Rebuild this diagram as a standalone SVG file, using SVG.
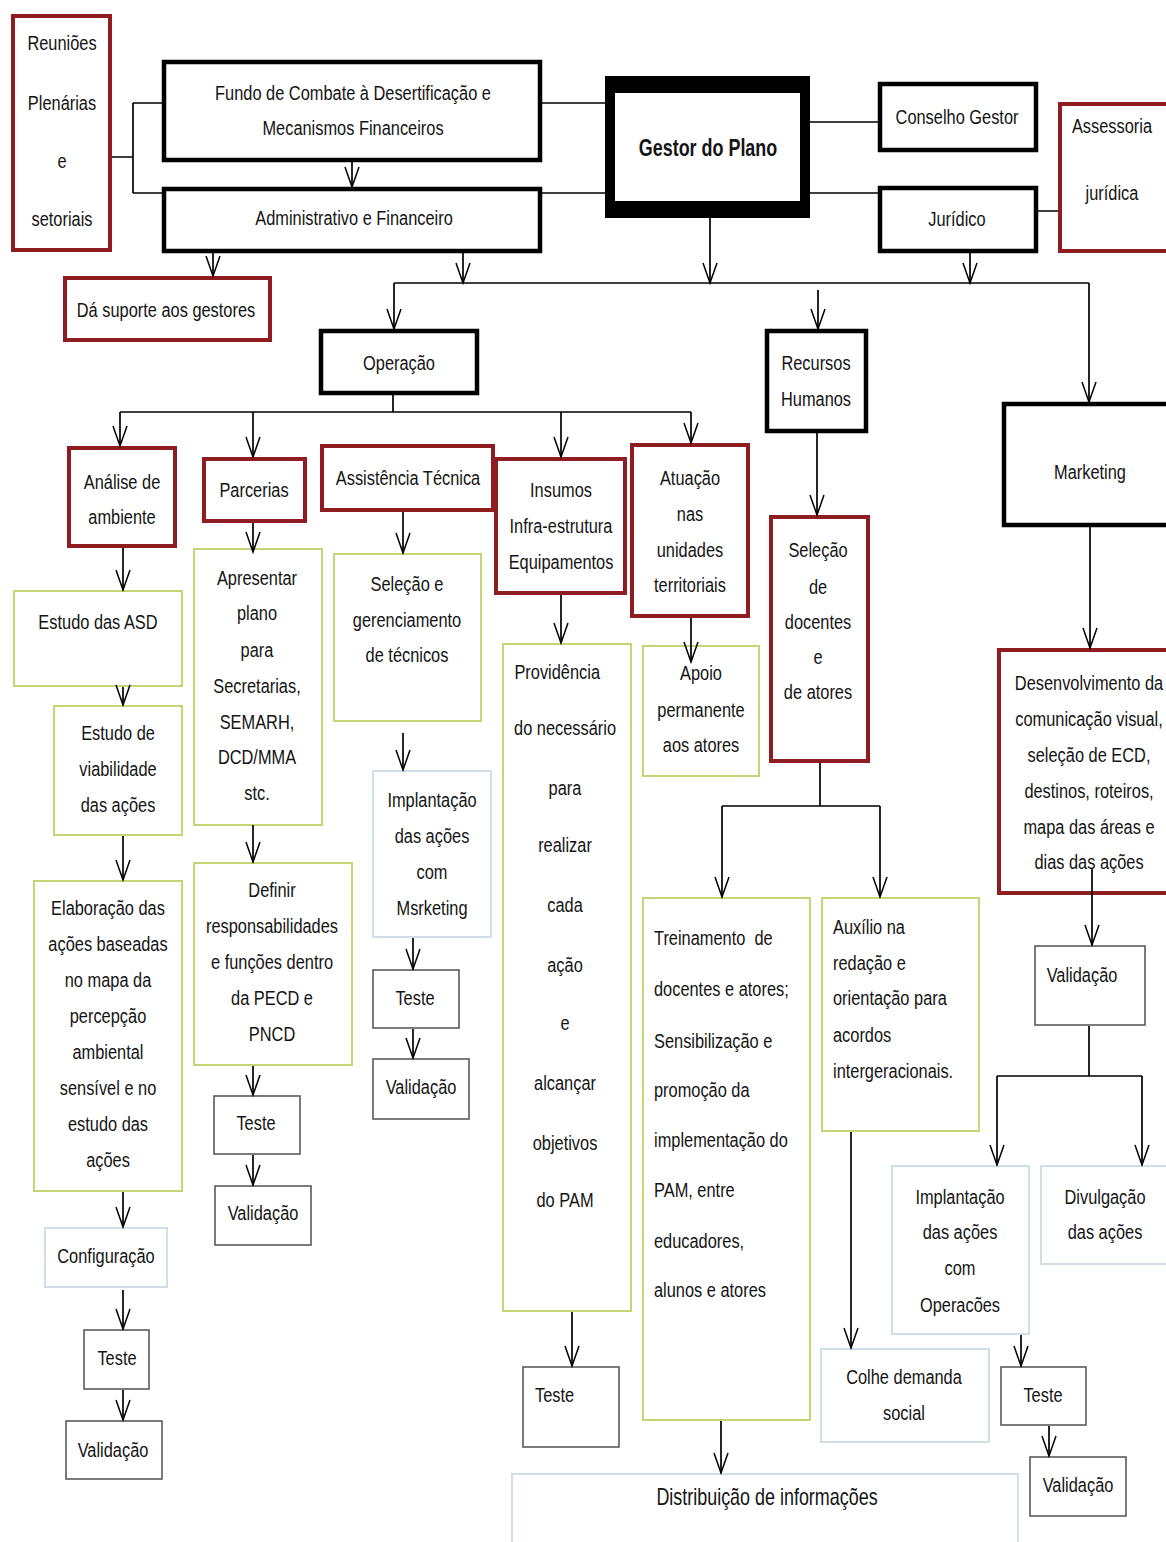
<svg xmlns="http://www.w3.org/2000/svg" width="1166" height="1542" viewBox="0 0 1166 1542">
  <defs>
    <style>
      .bk { fill:#fff; stroke:#000; stroke-width:4.5; }
      .rd { fill:#fff; stroke:#8e1c20; stroke-width:4; }
      .gr { fill:#fff; stroke:#c6d474; stroke-width:2; }
      .bl { fill:#fff; stroke:#cfdee7; stroke-width:2; }
      .gy { fill:#fff; stroke:#5a5a5a; stroke-width:1.6; }
      text { font-family:"Liberation Sans", Arial, sans-serif; font-size:21px; fill:#141414; text-anchor:middle; }
      text.l { text-anchor:start; }
      text.b { font-weight:bold; font-size:23px; }
      #connectors path { fill:none; stroke:#000; stroke-width:1.7; }
      #connectors path.a { marker-end:url(#v); }
    </style>
    <marker id="v" viewBox="0 0 20 14" refX="20" refY="7" markerWidth="20" markerHeight="14" markerUnits="userSpaceOnUse" orient="auto" overflow="visible">
      <path d="M0,0 L20,7 L0,14" fill="none" stroke="#000" stroke-width="1.5"/>
    </marker>
  </defs>

  <rect width="1166" height="1542" fill="#fff"/>

  <!-- top management row -->
  <g id="reunioes">
    <rect class="rd" x="13" y="16" width="97" height="234"/>
    <text transform="translate(62 0) scale(0.78 1)"><tspan x="0" y="50">Reuniões</tspan><tspan x="0" y="110">Plenárias</tspan><tspan x="0" y="168">e</tspan><tspan x="0" y="226">setoriais</tspan></text>
  </g>
  <g id="fundo">
    <rect class="bk" x="164" y="62" width="376" height="98"/>
    <text transform="translate(353 0) scale(0.78 1)"><tspan x="0" y="100">Fundo de Combate à Desertificação e</tspan><tspan x="0" y="135">Mecanismos Financeiros</tspan></text>
  </g>
  <g id="administrativo">
    <rect class="bk" x="164" y="189" width="376" height="62"/>
    <text transform="translate(354 0) scale(0.78 1)" x="0" y="225">Administrativo e Financeiro</text>
  </g>
  <g id="suporte">
    <rect class="rd" x="65" y="278" width="205" height="62"/>
    <text transform="translate(166 0) scale(0.78 1)" x="0" y="317">Dá suporte aos gestores</text>
  </g>
  <g id="gestor">
    <path d="M605,76 H810 V218 H605 Z M615,93 V201 H800 V93 Z" fill="#000" fill-rule="evenodd"/>
    <rect x="615" y="93" width="185" height="108" fill="#fff"/>
    <text class="b" transform="translate(708 0) scale(0.78 1)" x="0" y="156">Gestor do Plano</text>
  </g>
  <g id="conselho">
    <rect class="bk" x="880" y="84" width="156" height="66"/>
    <text transform="translate(957 0) scale(0.78 1)" x="0" y="124">Conselho Gestor</text>
  </g>
  <g id="juridico">
    <rect class="bk" x="880" y="188" width="156" height="63"/>
    <text transform="translate(957 0) scale(0.78 1)" x="0" y="226">Jurídico</text>
  </g>
  <g id="assessoria">
    <rect class="rd" x="1060" y="104" width="120" height="147"/>
    <text transform="translate(1112 0) scale(0.78 1)"><tspan x="0" y="133">Assessoria</tspan><tspan x="0" y="200">jurídica</tspan></text>
  </g>

  <!-- second level -->
  <g id="operacao">
    <rect class="bk" x="321" y="331" width="156" height="62"/>
    <text transform="translate(399 0) scale(0.78 1)" x="0" y="370">Operação</text>
  </g>
  <g id="recursos">
    <rect class="bk" x="767" y="331" width="99" height="100"/>
    <text transform="translate(816 0) scale(0.78 1)"><tspan x="0" y="370">Recursos</tspan><tspan x="0" y="406">Humanos</tspan></text>
  </g>
  <g id="marketing">
    <rect class="bk" x="1004" y="404" width="176" height="121"/>
    <text transform="translate(1090 0) scale(0.78 1)" x="0" y="479">Marketing</text>
  </g>

  <!-- operation branches -->
  <g id="analise">
    <rect class="rd" x="69" y="448" width="106" height="98"/>
    <text transform="translate(122 0) scale(0.78 1)"><tspan x="0" y="489">Análise de</tspan><tspan x="0" y="524">ambiente</tspan></text>
  </g>
  <g id="parcerias">
    <rect class="rd" x="204" y="459" width="101" height="62"/>
    <text transform="translate(254 0) scale(0.78 1)" x="0" y="497">Parcerias</text>
  </g>
  <g id="assistencia">
    <rect class="rd" x="322" y="446" width="171" height="64"/>
    <text transform="translate(408 0) scale(0.78 1)" x="0" y="485">Assistência Técnica</text>
  </g>
  <g id="insumos">
    <rect class="rd" x="496" y="459" width="129" height="134"/>
    <text transform="translate(561 0) scale(0.78 1)"><tspan x="0" y="497">Insumos</tspan><tspan x="0" y="533">Infra-estrutura</tspan><tspan x="0" y="569">Equipamentos</tspan></text>
  </g>
  <g id="atuacao">
    <rect class="rd" x="632" y="445" width="116" height="171"/>
    <text transform="translate(690 0) scale(0.78 1)"><tspan x="0" y="485">Atuação</tspan><tspan x="0" y="521">nas</tspan><tspan x="0" y="557">unidades</tspan><tspan x="0" y="592">territoriais</tspan></text>
  </g>
  <g id="selecao-docentes">
    <rect class="rd" x="771" y="517" width="97" height="244"/>
    <text transform="translate(818 0) scale(0.78 1)"><tspan x="0" y="557">Seleção</tspan><tspan x="0" y="594">de</tspan><tspan x="0" y="629">docentes</tspan><tspan x="0" y="664">e</tspan><tspan x="0" y="699">de atores</tspan></text>
  </g>
  <g id="marketing-desenvolvimento">
    <rect class="rd" x="999" y="650" width="180" height="243"/>
    <text transform="translate(1089 0) scale(0.78 1)"><tspan x="0" y="690">Desenvolvimento da</tspan><tspan x="0" y="726">comunicação visual,</tspan><tspan x="0" y="762">seleção de ECD,</tspan><tspan x="0" y="798">destinos, roteiros,</tspan><tspan x="0" y="834">mapa das áreas e</tspan><tspan x="0" y="869">dias das ações</tspan></text>
  </g>

  <!-- análise de ambiente chain -->
  <g id="estudo-asd">
    <rect class="gr" x="14" y="591" width="168" height="95"/>
    <text transform="translate(98 0) scale(0.78 1)" x="0" y="629">Estudo das ASD</text>
  </g>
  <g id="estudo-viabilidade">
    <rect class="gr" x="54" y="706" width="128" height="129"/>
    <text transform="translate(118 0) scale(0.78 1)"><tspan x="0" y="740">Estudo de</tspan><tspan x="0" y="776">viabilidade</tspan><tspan x="0" y="812">das ações</tspan></text>
  </g>
  <g id="elaboracao">
    <rect class="gr" x="34" y="881" width="148" height="310"/>
    <text transform="translate(108 0) scale(0.78 1)"><tspan x="0" y="915">Elaboração das</tspan><tspan x="0" y="951">ações baseadas</tspan><tspan x="0" y="987">no mapa da</tspan><tspan x="0" y="1023">percepção</tspan><tspan x="0" y="1059">ambiental</tspan><tspan x="0" y="1095">sensível e no</tspan><tspan x="0" y="1131">estudo das</tspan><tspan x="0" y="1167">ações</tspan></text>
  </g>
  <g id="configuracao">
    <rect class="bl" x="45" y="1228" width="122" height="59"/>
    <text transform="translate(106 0) scale(0.78 1)" x="0" y="1263">Configuração</text>
  </g>
  <g id="teste-analise">
    <rect class="gy" x="84" y="1330" width="65" height="59"/>
    <text transform="translate(117 0) scale(0.78 1)" x="0" y="1365">Teste</text>
  </g>
  <g id="validacao-analise">
    <rect class="gy" x="66" y="1421" width="96" height="58"/>
    <text transform="translate(113 0) scale(0.78 1)" x="0" y="1457">Validação</text>
  </g>

  <!-- parcerias chain -->
  <g id="apresentar">
    <rect class="gr" x="194" y="549" width="128" height="276"/>
    <text transform="translate(257 0) scale(0.78 1)"><tspan x="0" y="585">Apresentar</tspan><tspan x="0" y="620">plano</tspan><tspan x="0" y="657">para</tspan><tspan x="0" y="693">Secretarias,</tspan><tspan x="0" y="729">SEMARH,</tspan><tspan x="0" y="764">DCD/MMA</tspan><tspan x="0" y="800">stc.</tspan></text>
  </g>
  <g id="definir">
    <rect class="gr" x="194" y="863" width="158" height="202"/>
    <text transform="translate(272 0) scale(0.78 1)"><tspan x="0" y="897">Definir</tspan><tspan x="0" y="933">responsabilidades</tspan><tspan x="0" y="969">e funções dentro</tspan><tspan x="0" y="1005">da PECD e</tspan><tspan x="0" y="1041">PNCD</tspan></text>
  </g>
  <g id="teste-parcerias">
    <rect class="gy" x="214" y="1096" width="86" height="58"/>
    <text transform="translate(256 0) scale(0.78 1)" x="0" y="1130">Teste</text>
  </g>
  <g id="validacao-parcerias">
    <rect class="gy" x="215" y="1186" width="96" height="59"/>
    <text transform="translate(263 0) scale(0.78 1)" x="0" y="1220">Validação</text>
  </g>

  <!-- assistência técnica chain -->
  <g id="selecao-tecnicos">
    <rect class="gr" x="334" y="554" width="147" height="167"/>
    <text transform="translate(407 0) scale(0.78 1)"><tspan x="0" y="591">Seleção e</tspan><tspan x="0" y="627">gerenciamento</tspan><tspan x="0" y="662">de técnicos</tspan></text>
  </g>
  <g id="implantacao-marketing">
    <rect class="bl" x="373" y="771" width="118" height="166"/>
    <text transform="translate(432 0) scale(0.78 1)"><tspan x="0" y="807">Implantação</tspan><tspan x="0" y="843">das ações</tspan><tspan x="0" y="879">com</tspan><tspan x="0" y="915">Msrketing</tspan></text>
  </g>
  <g id="teste-assistencia">
    <rect class="gy" x="373" y="970" width="86" height="58"/>
    <text transform="translate(415 0) scale(0.78 1)" x="0" y="1005">Teste</text>
  </g>
  <g id="validacao-assistencia">
    <rect class="gy" x="373" y="1059" width="96" height="60"/>
    <text transform="translate(421 0) scale(0.78 1)" x="0" y="1094">Validação</text>
  </g>

  <!-- insumos chain -->
  <g id="providencia">
    <rect class="gr" x="503" y="644" width="128" height="667"/>
    <text transform="translate(565 0) scale(0.78 1)"><tspan x="-10" y="679">Providência</tspan><tspan x="0" y="735">do necessário</tspan><tspan x="0" y="795">para</tspan><tspan x="0" y="852">realizar</tspan><tspan x="0" y="912">cada</tspan><tspan x="0" y="972">ação</tspan><tspan x="0" y="1030">e</tspan><tspan x="0" y="1090">alcançar</tspan><tspan x="0" y="1150">objetivos</tspan><tspan x="0" y="1207">do PAM</tspan></text>
  </g>
  <g id="teste-insumos">
    <rect class="gy" x="523" y="1367" width="96" height="80"/>
    <text class="l" transform="translate(535 0) scale(0.78 1)" x="0" y="1402">Teste</text>
  </g>

  <!-- atuação chain -->
  <g id="apoio">
    <rect class="gr" x="643" y="646" width="116" height="130"/>
    <text transform="translate(701 0) scale(0.78 1)"><tspan x="0" y="680">Apoio</tspan><tspan x="0" y="717">permanente</tspan><tspan x="0" y="752">aos atores</tspan></text>
  </g>

  <!-- recursos humanos chain -->
  <g id="treinamento">
    <rect class="gr" x="643" y="898" width="167" height="522"/>
    <text class="l" xml:space="preserve" transform="translate(654 0) scale(0.78 1)"><tspan x="0" y="945">Treinamento  de</tspan><tspan x="0" y="996">docentes e atores;</tspan><tspan x="0" y="1048">Sensibilização e</tspan><tspan x="0" y="1097">promoção da</tspan><tspan x="0" y="1147">implementação do</tspan><tspan x="0" y="1197">PAM, entre</tspan><tspan x="0" y="1248">educadores,</tspan><tspan x="0" y="1297">alunos e atores</tspan></text>
  </g>
  <g id="auxilio">
    <rect class="gr" x="822" y="898" width="157" height="233"/>
    <text class="l" transform="translate(833 0) scale(0.78 1)"><tspan x="0" y="934">Auxílio na</tspan><tspan x="0" y="970">redação e</tspan><tspan x="0" y="1005">orientação para</tspan><tspan x="0" y="1042">acordos</tspan><tspan x="0" y="1078">intergeracionais.</tspan></text>
  </g>
  <g id="colhe-demanda">
    <rect class="bl" x="821" y="1349" width="168" height="93"/>
    <text transform="translate(904 0) scale(0.78 1)"><tspan x="0" y="1384">Colhe demanda</tspan><tspan x="0" y="1420">social</tspan></text>
  </g>
  <g id="distribuicao">
    <rect class="bl" x="512" y="1474" width="506" height="80"/>
    <text transform="translate(767 0) scale(0.78 1)" x="0" y="1505" style="font-size:23px">Distribuição de informações</text>
  </g>

  <!-- marketing chain -->
  <g id="validacao-marketing">
    <rect class="gy" x="1035" y="946" width="110" height="79"/>
    <text transform="translate(1082 0) scale(0.78 1)" x="0" y="982">Validação</text>
  </g>
  <g id="implantacao-operacoes">
    <rect class="bl" x="892" y="1166" width="137" height="168"/>
    <text transform="translate(960 0) scale(0.78 1)"><tspan x="0" y="1204">Implantação</tspan><tspan x="0" y="1239">das ações</tspan><tspan x="0" y="1275">com</tspan><tspan x="0" y="1312">Operacões</tspan></text>
  </g>
  <g id="divulgacao">
    <rect class="bl" x="1041" y="1166" width="130" height="98"/>
    <text transform="translate(1105 0) scale(0.78 1)"><tspan x="0" y="1204">Divulgação</tspan><tspan x="0" y="1239">das ações</tspan></text>
  </g>
  <g id="teste-operacoes">
    <rect class="gy" x="1001" y="1367" width="85" height="58"/>
    <text transform="translate(1043 0) scale(0.78 1)" x="0" y="1402">Teste</text>
  </g>
  <g id="validacao-operacoes">
    <rect class="gy" x="1030" y="1457" width="96" height="59"/>
    <text transform="translate(1078 0) scale(0.78 1)" x="0" y="1492">Validação</text>
  </g>

  <!-- connectors -->
  <g id="connectors">
    <!-- meetings bracket and top links -->
    <path d="M112,157 H133 M133,103 V193 M133,103 H162 M133,193 H162"/>
    <path class="a" d="M352,162 V187"/>
    <path d="M542,103 H605 M542,193 H605"/>
    <path d="M810,122 H878 M810,193 H878 M1038,211 H1058"/>
    <path class="a" d="M213,253 V276"/>
    <path class="a" d="M463,253 V283"/>
    <path class="a" d="M710,218 V283"/>
    <path class="a" d="M970,253 V283"/>
    <path d="M394,283 H1089"/>
    <path class="a" d="M394,283 V329"/>
    <path class="a" d="M818,290 V329"/>
    <path class="a" d="M1089,283 V402"/>

    <!-- operation branch -->
    <path d="M393,395 V412 M120,412 H691"/>
    <path class="a" d="M120,412 V446"/>
    <path class="a" d="M253,412 V457"/>
    <path class="a" d="M561,412 V457"/>
    <path class="a" d="M691,412 V443"/>

    <!-- análise chain -->
    <path class="a" d="M123,548 V590"/>
    <path class="a" d="M123,687 V705"/>
    <path class="a" d="M123,836 V880"/>
    <path class="a" d="M123,1192 V1227"/>
    <path class="a" d="M123,1290 V1329"/>
    <path class="a" d="M123,1390 V1420"/>

    <!-- parcerias chain -->
    <path class="a" d="M253,523 V552"/>
    <path class="a" d="M253,825 V862"/>
    <path class="a" d="M253,1066 V1095"/>
    <path class="a" d="M253,1155 V1185"/>

    <!-- assistência chain -->
    <path class="a" d="M403,512 V553"/>
    <path class="a" d="M403,733 V770"/>
    <path class="a" d="M413,938 V969"/>
    <path class="a" d="M413,1029 V1058"/>

    <!-- insumos / atuação -->
    <path class="a" d="M561,595 V643"/>
    <path class="a" d="M572,1312 V1366"/>
    <path class="a" d="M691,618 V662"/>

    <!-- recursos humanos -->
    <path class="a" d="M817,433 V515"/>
    <path d="M820,763 V806 M722,806 H880"/>
    <path class="a" d="M722,806 V897"/>
    <path class="a" d="M880,806 V897"/>
    <path class="a" d="M721,1421 V1473"/>
    <path class="a" d="M851,1132 V1348"/>

    <!-- marketing -->
    <path class="a" d="M1090,527 V648"/>
    <path class="a" d="M1092,868 V945"/>
    <path d="M1089,1026 V1076 M997,1076 H1142"/>
    <path class="a" d="M997,1076 V1165"/>
    <path class="a" d="M1142,1076 V1165"/>
    <path class="a" d="M1021,1335 V1366"/>
    <path class="a" d="M1049,1426 V1456"/>
  </g>
</svg>
